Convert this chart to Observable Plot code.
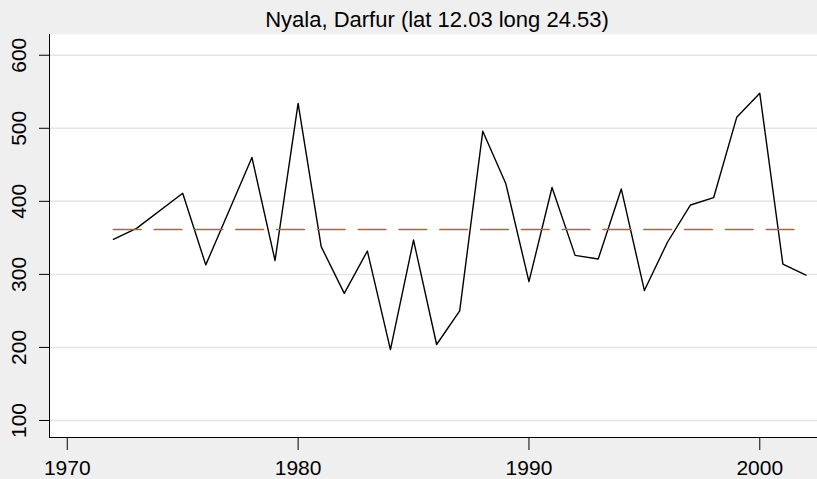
<!DOCTYPE html>
<html>
<head>
<meta charset="utf-8">
<script src="https://cdn.jsdelivr.net/npm/d3@7"></script>
<script src="https://cdn.jsdelivr.net/npm/@observablehq/plot@0.6"></script>
<style>
  html, body { margin: 0; padding: 0; }
  body { background: #efefef; width: 817px; height: 479px; overflow: hidden;
         font-family: "Liberation Sans", Arial, sans-serif; }
  #title { position: relative; height: 34px; }
  #title span { position: absolute; left: 437px; top: 9px; transform: translateX(-50%);
                font-size: 22px; line-height: 22px; white-space: nowrap; color: #000; }
  #chart svg { display: block; }
</style>
</head>
<body>
<div id="title"><span>Nyala, Darfur (lat 12.03 long 24.53)</span></div>
<div id="chart"></div>
<script>
const titleText = "Nyala, Darfur (lat 12.03 long 24.53)";
const years    = [1972, 1973, 1975, 1976, 1978, 1979, 1980, 1981, 1982, 1983, 1984, 1985, 1986, 1987, 1988,
                  1989, 1990, 1991, 1992, 1993, 1994, 1995, 1996, 1997, 1998, 1999, 2000, 2001, 2002];
const rainfall = [348, 363, 411, 313, 460, 319, 534, 338, 274, 332, 197, 347, 204, 250, 496,
                  424, 290, 419, 326, 321, 417, 278, 344, 395, 405, 515, 548, 314, 299];
const xTicks = [1970, 1980, 1990, 2000];
const yTicks = [100, 200, 300, 400, 500, 600];

const data = years.map((y, i) => ({year: y, value: rainfall[i]}));
const meanValue = d3.mean(rainfall);
const xDomain = [1969.23, 2002.5];
const yDomain = [76.7, 628.4];

const chart = Plot.plot({
  width: 817,
  height: 445,
  marginLeft: 49,
  marginRight: 0,
  marginTop: 0,
  marginBottom: 42,
  style: {background: "transparent", fontFamily: "'Liberation Sans', Arial, sans-serif", fontSize: "21px", color: "#000"},
  x: {domain: xDomain, label: null},
  y: {domain: yDomain, label: null},
  marks: [
    Plot.frame({fill: "white", stroke: null}),
    Plot.gridY(yTicks, {stroke: "#e4e4e4", strokeOpacity: 1, strokeWidth: 1.5}),
    Plot.line(data, {x: "year", y: "value", stroke: "black", strokeWidth: 1.4}),
    Plot.line([years[0], years[years.length - 1]], {x: d => d, y: () => meanValue,
      stroke: "#b4643b", strokeWidth: 1.6, strokeDasharray: "27.7,13.1"}),
    Plot.ruleY([yDomain[0]], {stroke: "black", strokeWidth: 1}),
    Plot.ruleX([xDomain[0]], {stroke: "black", strokeWidth: 1}),
    Plot.axisX(xTicks, {tickSize: 13, tickPadding: 10, tickFormat: d => String(d), fontSize: 21, label: null}),
    Plot.axisY(yTicks, {tickSize: 10, tickFormat: () => "", label: null}),
    Plot.text(yTicks, {y: d => d, text: d => String(d), frameAnchor: "left", dx: -30,
      rotate: -90, textAnchor: "middle", lineAnchor: "middle", fontSize: 21, fill: "black"})
  ]
});
document.getElementById("chart").appendChild(chart);
</script>
</body>
</html>
